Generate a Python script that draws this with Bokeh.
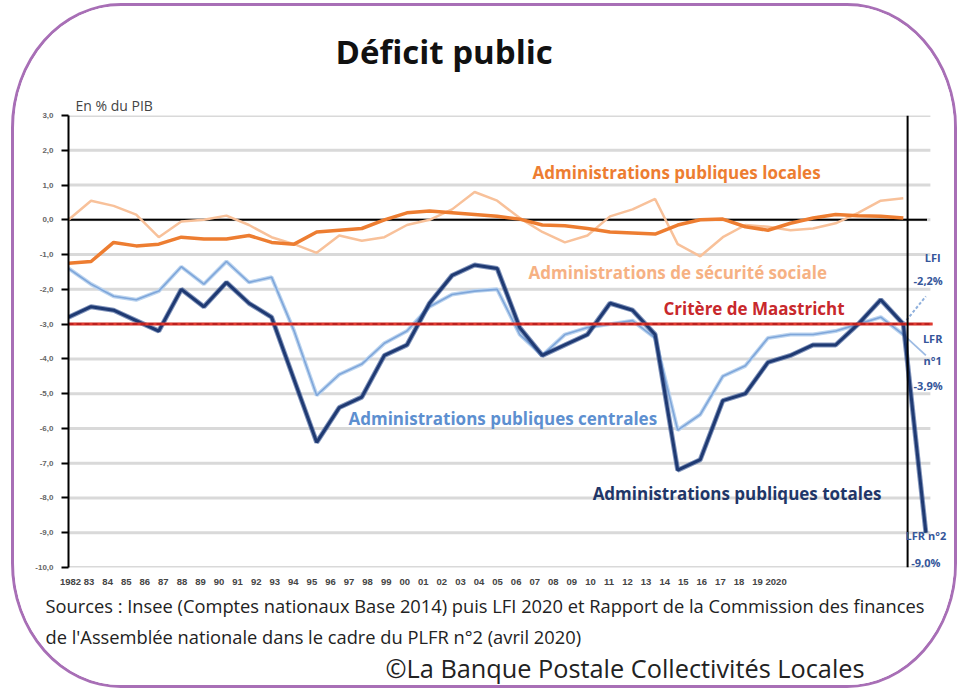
from bokeh.plotting import figure
from bokeh.models import Range1d, LinearAxis, FixedTicker, Span, Label, Title
from bokeh.embed import file_html
from bokeh.resources import INLINE

# ---------------- data ----------------
years = list(range(1982, 2020))
apu_totales = [-2.8, -2.5, -2.6, -2.9, -3.2, -2.0, -2.5, -1.8, -2.4, -2.8,
               -4.6, -6.4, -5.4, -5.1, -3.9, -3.6, -2.4, -1.6, -1.3, -1.4,
               -3.1, -3.9, -3.6, -3.3, -2.4, -2.6, -3.3, -7.2, -6.9, -5.2,
               -5.0, -4.1, -3.9, -3.6, -3.6, -3.0, -2.3, -3.0]
apu_centrales = [-1.4, -1.85, -2.2, -2.3, -2.05, -1.35, -1.85, -1.2, -1.8, -1.65,
                 -3.2, -5.05, -4.45, -4.15, -3.55, -3.2, -2.5, -2.15, -2.05, -2.0,
                 -3.3, -3.9, -3.3, -3.1, -3.0, -2.9, -3.4, -6.05, -5.6, -4.5,
                 -4.2, -3.4, -3.3, -3.3, -3.2, -3.0, -2.8, -3.3]
apul = [-1.25, -1.2, -0.65, -0.75, -0.7, -0.5, -0.55, -0.55, -0.45, -0.65,
        -0.7, -0.35, -0.3, -0.25, 0.0, 0.2, 0.25, 0.2, 0.15, 0.1,
        0.02, -0.15, -0.17, -0.25, -0.35, -0.38, -0.41, -0.15, 0.0, 0.02,
        -0.2, -0.3, -0.1, 0.05, 0.15, 0.12, 0.1, 0.05]
asso = [0.0, 0.55, 0.4, 0.15, -0.5, -0.05, 0.0, 0.12, -0.15, -0.5,
        -0.7, -0.95, -0.45, -0.6, -0.5, -0.15, 0.0, 0.3, 0.8, 0.55,
        0.05, -0.35, -0.65, -0.45, 0.1, 0.3, 0.6, -0.7, -1.05, -0.5,
        -0.15, -0.2, -0.3, -0.25, -0.1, 0.2, 0.55, 0.62]

proj_years = [2019, 2020]
proj_lfi = [-3.0, -2.2]
proj_lfr1 = [-3.3, -3.9]
proj_lfr2 = [-3.0, -9.0]

y_ticks = [3, 2, 1, 0, -1, -2, -3, -4, -5, -6, -7, -8, -9, -10]
y_tick_labels = ["3,0", "2,0", "1,0", "0,0", "-1,0", "-2,0", "-3,0", "-4,0",
                 "-5,0", "-6,0", "-7,0", "-8,0", "-9,0", "-10,0"]
x_labels = ["1982", "83", "84", "85", "86", "87", "88", "89", "90", "91", "92",
            "93", "94", "95", "96", "97", "98", "99", "00", "01", "02", "03",
            "04", "05", "06", "07", "08", "09", "10", "11", "12", "13", "14",
            "15", "16", "17", "18", "19", "2020"]
maastricht = -3.0
vertical_marker = 2019.19
x_start, x_end = 1982, 2021.18
grid_end = 2020.2

# ---------------- figure ----------------
p = figure(frame_width=884, frame_height=452, output_backend="svg", toolbar_location=None,
           x_range=Range1d(x_start, x_end), y_range=Range1d(-10, 3),
           min_border_left=54, min_border_right=2,
           min_border_top=109, min_border_bottom=10)
p.outline_line_color = None
p.background_fill_color = "white"
p.border_fill_color = "white"
p.styles = {"border": "3px solid #a86fb6", "border-radius": "110px / 125px",
            "margin-left": "11px", "margin-top": "3px", "overflow": "hidden"}

# axes
p.xaxis.visible = False
p.xgrid.visible = False
p.ygrid.visible = False
p.extra_x_ranges = {"lbl": Range1d(-0.108, 47.5)}
lab_axis = LinearAxis(x_range_name="lbl",
                      ticker=FixedTicker(ticks=list(range(len(x_labels)))),
                      major_label_overrides={i: s for i, s in enumerate(x_labels)})
lab_axis.axis_line_color = None
lab_axis.major_tick_line_color = None
lab_axis.minor_tick_line_color = None
lab_axis.major_label_standoff = 5
lab_axis.major_label_text_font = "Liberation Sans"
lab_axis.major_label_text_font_style = "bold"
lab_axis.major_label_text_font_size = "9.5px"
lab_axis.major_label_text_color = "#444444"
p.add_layout(lab_axis, "below")

ya = p.yaxis[0]
ya.ticker = FixedTicker(ticks=y_ticks)
ya.major_label_overrides = {t: s for t, s in zip(y_ticks, y_tick_labels)}
ya.axis_line_color = "black"
ya.axis_line_width = 2
ya.major_tick_line_color = "black"
ya.major_tick_line_width = 2
ya.major_tick_out = 7
ya.major_tick_in = 0
ya.minor_tick_line_color = None
ya.major_label_standoff = 8
ya.major_label_text_font = "Liberation Sans"
ya.major_label_text_font_style = "bold"
ya.major_label_text_font_size = "8px"
ya.major_label_text_color = "#666666"

# horizontal grid lines (limited to the chart's width)
p.segment(x0=[x_start] * len(y_ticks), x1=[grid_end] * len(y_ticks),
          y0=y_ticks, y1=y_ticks, line_color="#d9d9d9", line_width=3)

# reference lines
p.segment(x0=[x_start], x1=[2020.05], y0=[0], y1=[0], line_color="black", line_width=2)
p.add_layout(Span(location=vertical_marker, dimension="height", line_color="black", line_width=2))

# series
p.line(years, asso, line_color="#f8c19a", line_width=2.5)
p.line(years, apul, line_color="#ed7d31", line_width=3.5)
p.line(years, apu_centrales, line_color="#bcd4ef", line_width=4)
p.line(years, apu_centrales, line_color="#7ea6da", line_width=1.6)
p.line(years, apu_totales, line_color="#2f4f8f", line_width=5, line_alpha=0.6)
p.line(years, apu_totales, line_color="#1f3a73", line_width=3)
p.line(proj_years, proj_lfi, line_color="#8fb0dc", line_width=2, line_dash="3 2")
p.line(proj_years, proj_lfr1, line_color="#9dbbe3", line_width=1.8)
p.line(proj_years, proj_lfr2, line_color="#2f4f8f", line_width=5, line_alpha=0.6)
p.line(proj_years, proj_lfr2, line_color="#1f3a73", line_width=3)

p.segment(x0=[x_start], x1=[2020.3], y0=[maastricht], y1=[maastricht],
          line_color="#e03a30", line_width=3)
p.segment(x0=[x_start], x1=[2020.3], y0=[maastricht], y1=[maastricht],
          line_color="#b01818", line_width=1.5, line_dash="5 3")

# ---------------- texts inside the chart ----------------
def lab(x, y, text, size, color, style="bold", font="Open Sans", align="left"):
    p.add_layout(Label(x=x, y=y, text=text, text_font=font, text_font_size=size,
                       text_font_style=style, text_color=color, text_align=align,
                       text_baseline="middle"))

lab(2002.57, 1.35, "Administrations publiques locales", "17px", "#ed7d31")
lab(2002.39, -1.52, "Administrations de sécurité sociale", "17px", "#f6b183")
lab(2008.37, -2.56, "Critère de Maastricht", "17px", "#c8282c")
lab(1994.41, -5.72, "Administrations publiques centrales", "17px", "#5d8fd0")
lab(2005.23, -7.87, "Administrations publiques totales", "17px", "#1f3668")

rc = "#35569a"
lab(2020.3, -1.09, "LFI", "11px", rc, align="center")
lab(2020.1, -1.75, "-2,2%", "11px", rc, align="center")
lab(2020.3, -3.42, "LFR", "11px", rc, align="center")
lab(2020.3, -4.05, "n°1", "11px", rc, align="center")
lab(2020.1, -4.77, "-3,9%", "11px", rc, align="center")
lab(2020.0, -9.08, "LFR n°2", "11px", rc, align="center")
lab(2020.0, -9.86, "-9,0%", "11px", rc, align="center")

# ---------------- texts around the chart ----------------
p.add_layout(Title(text="En % du PIB", align="left", offset=7, standoff=2,
                   text_font="Open Sans", text_font_size="14px",
                   text_font_style="normal", text_color="#444444"), "above")
p.add_layout(Title(text="Déficit public", align="left", offset=267, standoff=38,
                   text_font="Open Sans", text_font_size="33px",
                   text_font_style="bold", text_color="#111111"), "above")
p.add_layout(Title(text="Sources : Insee (Comptes nationaux Base 2014) puis LFI 2020 et Rapport de la Commission des finances",
                   align="left", offset=-23, standoff=7,
                   text_font="Open Sans", text_font_size="18.3px",
                   text_font_style="normal", text_color="#222222"), "below")
p.add_layout(Title(text="de l'Assemblée nationale dans le cadre du PLFR n°2 (avril 2020)",
                   align="left", offset=-23, standoff=0,
                   text_font="Open Sans", text_font_size="18.3px",
                   text_font_style="normal", text_color="#222222"), "below")
p.add_layout(Title(text="©La Banque Postale Collectivités Locales",
                   align="left", offset=317, standoff=1,
                   text_font="Open Sans", text_font_size="25.3px",
                   text_font_style="normal", text_color="#222222"), "below")

open("out.html", "w").write(file_html(p, INLINE))
